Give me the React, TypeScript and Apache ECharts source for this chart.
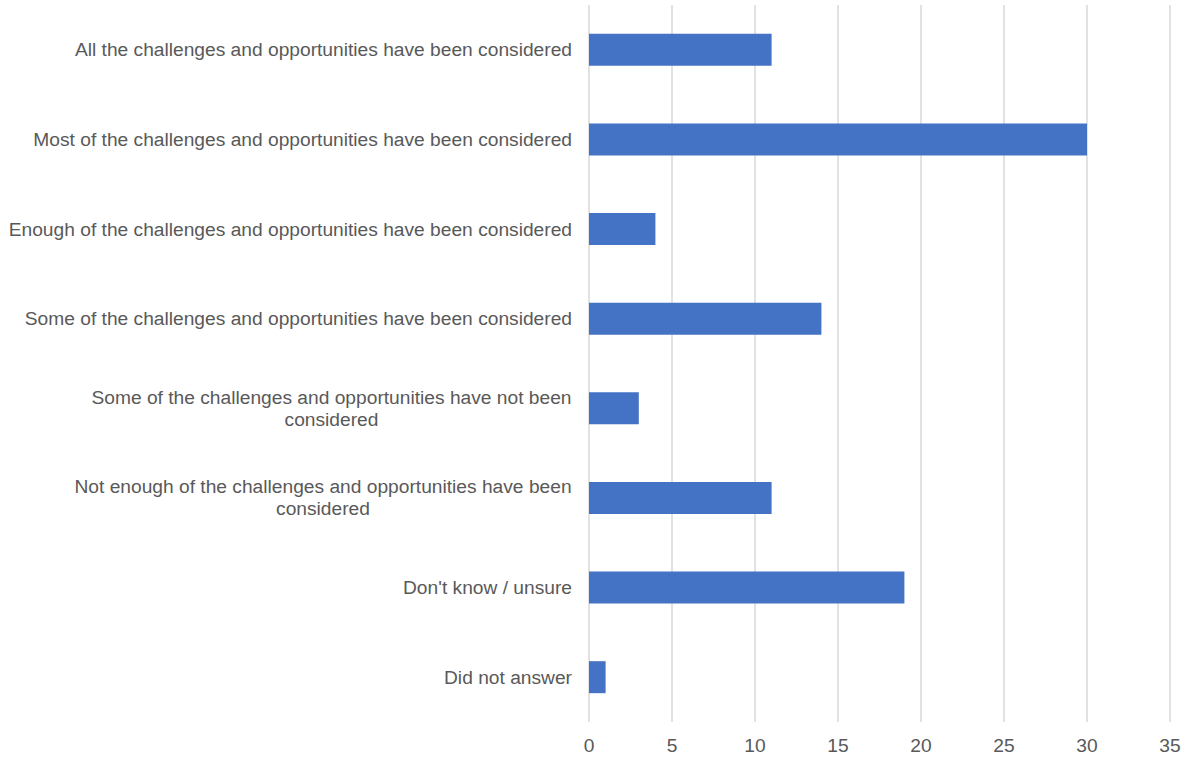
import React, { useEffect, useRef } from "react";
import * as echarts from "echarts";

const categories = [
  "All the challenges and opportunities have been considered",
  "Most of the challenges and opportunities have been considered",
  "Enough of the challenges and opportunities have been considered",
  "Some of the challenges and opportunities have been considered",
  "Some of the challenges and opportunities have not been\nconsidered",
  "Not enough of the challenges and opportunities have been\nconsidered",
  "Don't know / unsure",
  "Did not answer",
];
const values = [11, 30, 4, 14, 3, 11, 19, 1];
const FONT_SIZE = 19.2;
const FONT_FAMILY = "'Liberation Sans', Arial, sans-serif";

function measure(text: string): number {
  const c = document.createElement("canvas").getContext("2d");
  if (!c) return text.length * 9;
  c.font = `${FONT_SIZE}px ${FONT_FAMILY}`;
  return c.measureText(text).width;
}

export default function App() {
  const ref = useRef<HTMLDivElement>(null);
  useEffect(() => {
    if (!ref.current) return;
    const chart = echarts.init(ref.current, undefined, { renderer: "svg" });
    const rich: Record<string, any> = {};
    categories.forEach((cat, i) => {
      const lines = cat.split("\n");
      const w = Math.ceil(Math.max(...lines.map(measure)));
      rich["c" + i] = {
        width: w,
        align: "center",
        fontSize: FONT_SIZE,
        fontFamily: FONT_FAMILY,
        color: "#595959",
        lineHeight: 22,
      };
    });
    chart.setOption({
      animation: false,
      grid: { left: 589, right: 17, top: 5, bottom: 35, containLabel: false },
      xAxis: {
        type: "value",
        min: 0,
        max: 35,
        interval: 5,
        axisLine: { show: false },
        axisTick: { show: false },
        splitLine: { show: true, lineStyle: { color: "#d9d9d9", width: 1.5 } },
        axisLabel: {
          color: "#595959",
          fontSize: FONT_SIZE,
          fontFamily: FONT_FAMILY,
          margin: 14,
        },
      },
      yAxis: {
        type: "category",
        data: categories,
        inverse: true,
        axisLine: { show: false },
        axisTick: { show: false },
        axisLabel: {
          margin: 17,
          color: "#595959",
          fontSize: FONT_SIZE,
          fontFamily: FONT_FAMILY,
          lineHeight: 22,
          formatter: (val: string) => {
            const i = categories.indexOf(val);
            if (val.indexOf("\n") < 0) return val;
            return val
              .split("\n")
              .map((l) => `{c${i}|${l}}`)
              .join("\n");
          },
          rich,
        },
      },
      series: [
        {
          type: "bar",
          data: values,
          barWidth: 32,
          itemStyle: { color: "#4472C4" },
        },
      ],
    });
    return () => chart.dispose();
  }, []);
  return (
    <div
      ref={ref}
      style={{ position: "absolute", left: 0, top: 0, width: 1187, height: 757 }}
    />
  );
}
